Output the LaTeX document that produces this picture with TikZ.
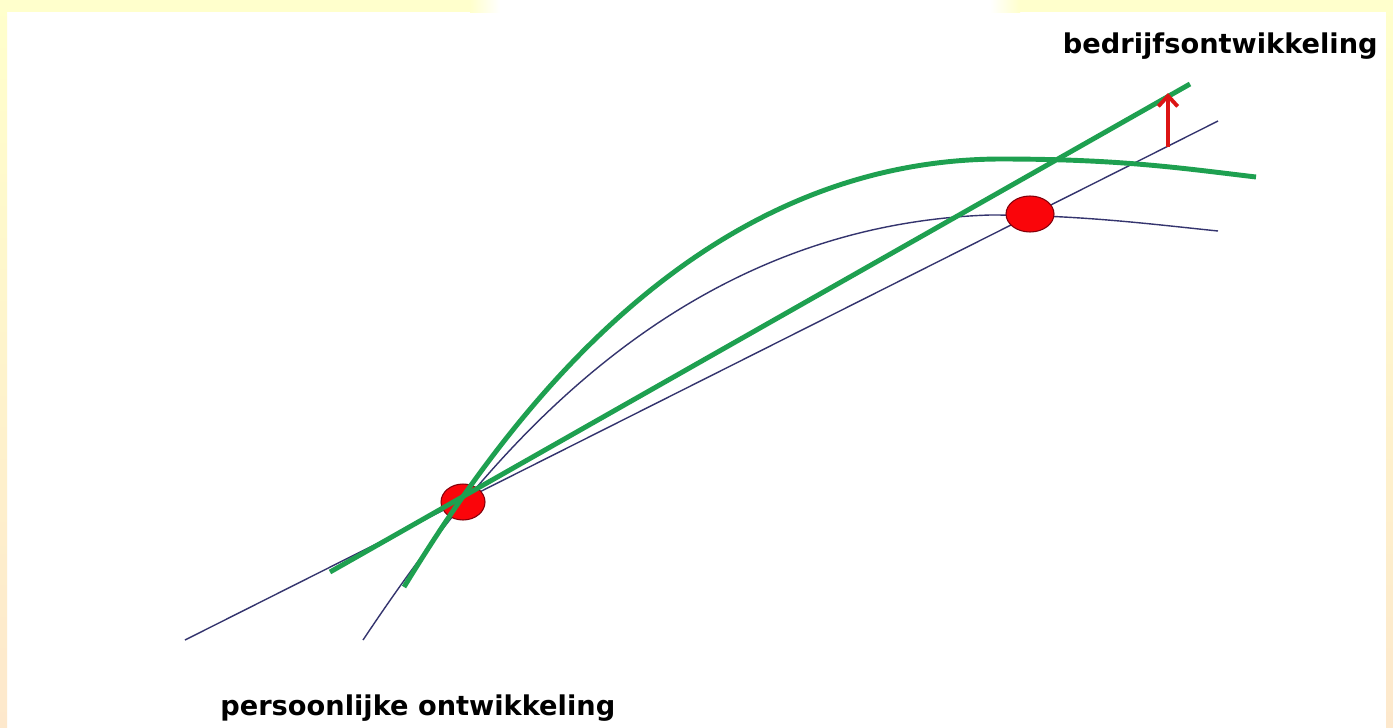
\documentclass[tikz,border=0pt]{standalone}
\usepackage{fontspec}
\setmainfont{DejaVu Sans}
\usetikzlibrary{arrows.meta,shapes.geometric}

\definecolor{linenavy}{RGB}{52,52,110}
\definecolor{curvegreen}{RGB}{30,160,80}
\definecolor{dotred}{RGB}{250,5,10}
\definecolor{dotrim}{RGB}{130,0,10}
\definecolor{arrowred}{RGB}{220,20,20}
\definecolor{bandyellow}{RGB}{255,255,204}
\definecolor{bandpeach}{RGB}{253,232,204}

\tikzset{
	thinline/.style={line width=0.8pt, color=linenavy},
	greenline/.style={line width=2.8pt, color=curvegreen},
	reddot/.style={ellipse, draw=dotrim, fill=dotred, line width=0.6pt, inner sep=0pt, minimum width=0.88cm, minimum height=0.72cm},
	axislabel/.style={font=\bfseries\fontsize{15.5}{18}\selectfont, inner sep=0pt},
}

\begin{document}
\begin{tikzpicture}[x=0.02cm, y=-0.02cm]
		%%%%% FRAME %%%%%
		\useasboundingbox (0, 0) rectangle (1393, 727);
		\fill[white] (0, 0) rectangle (1393, 727);
		\shade[top color=bandyellow, bottom color=bandpeach] (0, 0) rectangle (7, 727);
		\shade[top color=bandyellow, bottom color=bandpeach] (1386, 0) rectangle (1393, 727);
		\fill[bandyellow] (0, 0) rectangle (470, 12);
		\shade[left color=bandyellow, right color=white] (470, 0) rectangle (500, 12);
		\shade[left color=white, right color=bandyellow] (990, 0) rectangle (1020, 12);
		\fill[bandyellow] (1020, 0) rectangle (1393, 12);
		
		%%%%% THIN LINES %%%%%
		\draw[thinline] (185, 640) -- (1218, 121);
		\draw[thinline] (363, 640) .. controls (470, 480) and (660, 226) .. (990, 215)
			.. controls (1080, 215) and (1150, 224) .. (1218, 231);
		
		%%%%% DOTS %%%%%
		\node[reddot] (pers) at (463, 502) {};
		\node[reddot, minimum width=0.96cm] (bedr) at (1030, 214) {};
		
		%%%%% GREEN LINES %%%%%
		\draw[greenline] (330, 572) -- (1190, 84);
		\draw[greenline] (404, 587) .. controls (500, 430) and (690, 160) .. (1000, 159)
			.. controls (1120, 159) and (1180, 168) .. (1256, 177);
		
		%%%%% ARROW %%%%%
		\coordinate (foot) at (1168, 147);
		\coordinate (tip) at (1168, 93);
		\draw[arrowred, line width=2.2pt, -{Straight Barb[length=6pt, width=11pt]}] (foot) -- (tip);
		
		%%%%% LABELS %%%%%
		\node[axislabel, anchor=base east] (bedrlabel) at (1378, 53) {bedrijfsontwikkeling};
		\node[axislabel, anchor=base west] (perslabel) at (220, 715) {persoonlijke ontwikkeling};
	\end{tikzpicture}
\end{document}
